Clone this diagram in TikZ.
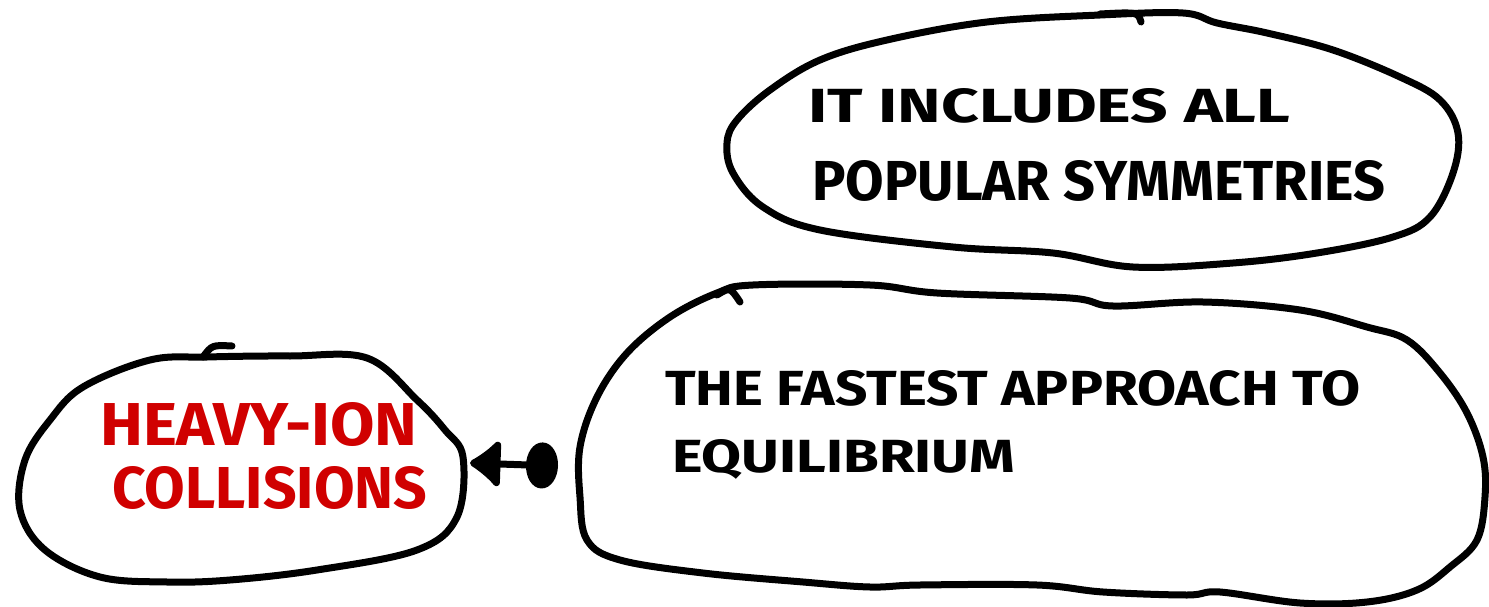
\documentclass[tikz,border=0pt]{standalone}
\usepackage{fontspec}
\setmainfont{Fira Sans}
\usepackage{graphicx}
\usetikzlibrary{arrows.meta}
\definecolor{inkred}{RGB}{208,0,0}
\newcommand{\fitln}[3]{\resizebox{#1pt}{#2pt}{#3}}
\tikzset{
  outline/.style={line width=7pt, line join=round, line cap=round, black},
  hook/.style={line width=7pt, line cap=round, black},
  lbl/.style={inner sep=0pt, anchor=north west, align=left, font=\bfseries},
  conn/.style={line width=7pt, black, {Latex[round,length=34pt,width=58pt]}-{Circle[length=32pt,width=46pt]}},
}
\begin{document}
\begin{tikzpicture}[x=1pt,y=-1pt]
\useasboundingbox (0,0) rectangle (1489,607);
% blob outlines
\draw[outline] plot[smooth cycle, tension=0.6] coordinates {(207,357) (290,356) (367,358) (417,400) (445,430) (463,457) (457,517) (417,550) (317,570) (230,580) (167,582) (100,577) (45,550) (20,510) (25,460) (50,420) (83,387) (150,360)};
\draw[hook] (203,357) .. controls (212,345) .. (232,346);
\draw[outline] plot[smooth cycle, tension=0.6] coordinates {(1100,15) (1183,13) (1217,23) (1267,33) (1333,50) (1400,77) (1440,100) (1458,133) (1453,173) (1430,217) (1393,237) (1317,253) (1233,263) (1133,267) (1053,253) (953,247) (820,230) (763,207) (733,173) (727,143) (737,120) (770,90) (820,60) (887,40) (987,22)};
\draw[hook] (1100,14) .. controls (1138,12) .. (1141,22);
\draw[outline] plot[smooth cycle, tension=0.6] coordinates {(717,293) (753,285) (870,285) (937,293) (1070,298) (1113,306) (1203,302) (1300,310) (1367,327) (1407,340) (1440,373) (1467,413) (1483,457) (1485,497) (1477,540) (1450,567) (1417,590) (1367,602) (1300,603) (1220,592) (1187,595) (1103,592) (1037,585) (920,585) (870,587) (803,582) (703,573) (620,560) (587,540) (580,497) (580,447) (597,397) (627,353) (670,317)};
\draw[hook] (717,295) .. controls (730,287) .. (740,302);
% texts
\node[lbl, text=inkred] (heavy) at (100,402) {\fitln{317}{43}{HEAVY-ION}\\[19pt]\hspace*{12pt}\fitln{315}{42}{COLLISIONS}};
\node[lbl] (sym) at (808,88) {\fitln{482}{34}{IT INCLUDES ALL}\\[36pt]\hspace*{4pt}\fitln{573}{40}{POPULAR SYMMETRIES}};
\node[lbl] (fast) at (665,370) {\fitln{695}{35}{THE FASTEST APPROACH TO}\\[32pt]\hspace*{7pt}\fitln{343}{33}{EQUILIBRIUM}};
% connector
\coordinate (heavyR) at (470,463);
\coordinate (fastL) at (558,466);
\draw[conn] (heavyR) -- (fastL);
\end{tikzpicture}
\end{document}
